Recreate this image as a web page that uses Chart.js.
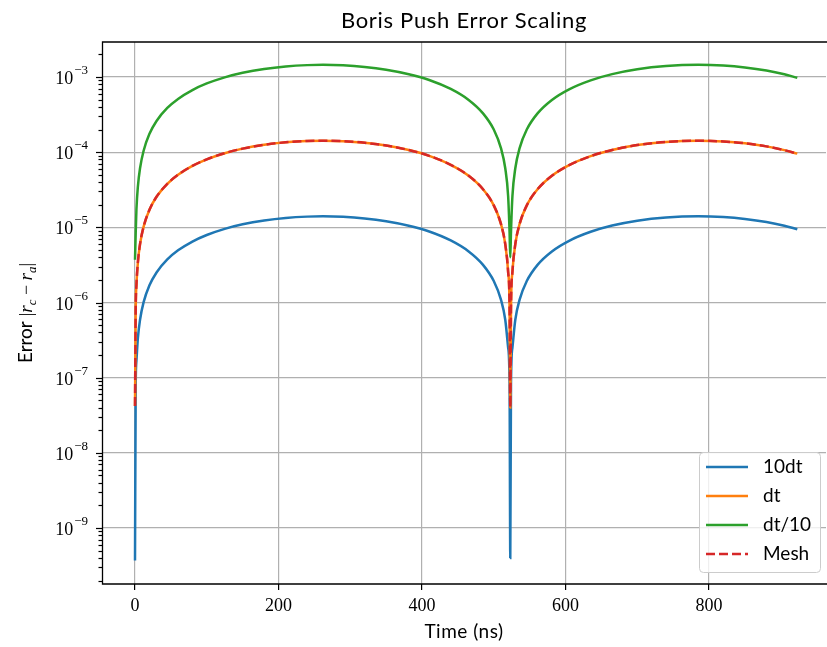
<!DOCTYPE html>
<html>
<head>
<meta charset="utf-8">
<title>Boris Push Error Scaling</title>
<script src="https://cdn.jsdelivr.net/npm/chart.js@4.4.1/dist/chart.umd.min.js"></script>
<style>
  html, body { margin: 0; padding: 0; background: #fff; }
</style>
</head>
<body>
<canvas id="errChart" width="827" height="647"></canvas>
<script>
// Time samples (ns)
const timeNs = [0, 1, 2, 4, 7, 12, 20, 30, 45, 60, 80, 100, 125, 150, 180, 210, 240, 262, 290, 320,
    350, 380, 410, 440, 465, 485, 500, 510, 516, 520, 522, 523, 524, 526, 530, 536, 546, 561, 581, 605,
    635, 665, 700, 740, 785, 820, 850, 880, 905, 923];

// Error |r_c - r_a| per run
const err10dt = [3.7e-10, 8.4e-8, 1.68e-7, 3.36e-7, 5.89e-7, 1.01e-6, 1.68e-6, 2.51e-6, 3.74e-6, 4.94e-6,
    6.47e-6, 7.91e-6, 9.55e-6, 1.098e-5, 1.235e-5, 1.334e-5, 1.388e-5, 1.40e-5, 1.379e-5, 1.314e-5,
    1.207e-5, 1.060e-5, 8.81e-6, 6.69e-6, 4.78e-6, 3.17e-6, 1.93e-6, 1.09e-6, 5.89e-7, 2.52e-7,
    8.4e-8, 4.0e-10, 8.4e-8, 2.52e-7, 5.89e-7, 1.09e-6, 1.93e-6, 3.17e-6, 4.78e-6, 6.62e-6,
    8.72e-6, 1.055e-5, 1.224e-5, 1.350e-5, 1.40e-5, 1.368e-5, 1.293e-5, 1.177e-5, 1.049e-5, 9.43e-6];

const errDt = [4.2e-8, 8.5e-7, 1.71e-6, 3.41e-6, 5.97e-6, 1.02e-5, 1.70e-5, 2.55e-5, 3.79e-5, 5.01e-5,
    6.57e-5, 8.03e-5, 9.69e-5, 1.114e-4, 1.253e-4, 1.353e-4, 1.408e-4, 1.42e-4, 1.399e-4, 1.333e-4,
    1.224e-4, 1.076e-4, 8.94e-5, 6.79e-5, 4.85e-5, 3.21e-5, 1.96e-5, 1.11e-5, 5.97e-6, 2.56e-6,
    8.5e-7, 4.0e-8, 8.5e-7, 2.56e-6, 5.97e-6, 1.11e-5, 1.96e-5, 3.21e-5, 4.85e-5, 6.72e-5,
    8.85e-5, 1.070e-4, 1.241e-4, 1.369e-4, 1.42e-4, 1.388e-4, 1.312e-4, 1.194e-4, 1.064e-4, 9.56e-5];

const errDt10 = [3.7e-6, 8.7e-6, 1.74e-5, 3.48e-5, 6.10e-5, 1.044e-4, 1.738e-4, 2.60e-4, 3.87e-4, 5.11e-4,
    6.70e-4, 8.20e-4, 9.89e-4, 1.137e-3, 1.280e-3, 1.381e-3, 1.438e-3, 1.45e-3, 1.429e-3, 1.361e-3,
    1.250e-3, 1.098e-3, 9.13e-4, 6.93e-4, 4.95e-4, 3.28e-4, 2.00e-4, 1.131e-4, 6.10e-5, 2.61e-5,
    8.7e-6, 4.0e-6, 8.7e-6, 2.61e-5, 6.10e-5, 1.131e-4, 2.00e-4, 3.28e-4, 4.95e-4, 6.86e-4,
    9.03e-4, 1.092e-3, 1.267e-3, 1.398e-3, 1.45e-3, 1.417e-3, 1.339e-3, 1.219e-3, 1.086e-3, 9.76e-4];

const errMesh = [4.2e-8, 8.5e-7, 1.71e-6, 3.41e-6, 5.97e-6, 1.02e-5, 1.70e-5, 2.55e-5, 3.79e-5, 5.01e-5,
    6.57e-5, 8.03e-5, 9.69e-5, 1.114e-4, 1.253e-4, 1.353e-4, 1.408e-4, 1.42e-4, 1.399e-4, 1.333e-4,
    1.224e-4, 1.076e-4, 8.94e-5, 6.79e-5, 4.85e-5, 3.21e-5, 1.96e-5, 1.11e-5, 5.97e-6, 2.56e-6,
    8.5e-7, 4.0e-8, 8.5e-7, 2.56e-6, 5.97e-6, 1.11e-5, 1.96e-5, 3.21e-5, 4.85e-5, 6.72e-5,
    8.85e-5, 1.070e-4, 1.241e-4, 1.369e-4, 1.42e-4, 1.388e-4, 1.312e-4, 1.194e-4, 1.064e-4, 9.56e-5];

const seriesLabels = ['10dt', 'dt', 'dt/10', 'Mesh'];
const xTicks = [0, 200, 400, 600, 800];
const yDecades = [-9, -8, -7, -6, -5, -4, -3];

const COLORS = ['#1f77b4', '#ff7f0e', '#2ca02c', '#d62728'];
const SANS = 'Lato, "Open Sans", sans-serif';
const SERIF = '"Liberation Serif", "DejaVu Serif", serif';

function toPoints(arr) {
    return timeNs.map((t, i) => ({ x: t, y: arr[i] }));
}

function makeSet(idx, arr, order, dash) {
    return {
        label: seriesLabels[idx],
        data: toPoints(arr),
        borderColor: COLORS[idx],
        backgroundColor: COLORS[idx],
        borderWidth: 2.5,
        borderDash: dash || [],
        pointRadius: 0,
        cubicInterpolationMode: 'monotone',
        order: order
    };
}

// title, spines, y labels with exponents, minor ticks and legend
const decorPlugin = {
    id: 'decor',
    afterDraw(chart) {
        const ctx = chart.ctx;
        const area = chart.chartArea;
        const ys = chart.scales.y;
        ctx.save();

        // frame (right spine falls outside the picture)
        ctx.strokeStyle = '#000';
        ctx.lineWidth = 1.3;
        ctx.beginPath();
        ctx.moveTo(827, area.top);
        ctx.lineTo(area.left + 0.5, area.top);
        ctx.lineTo(area.left + 0.5, area.bottom);
        ctx.lineTo(827, area.bottom);
        ctx.stroke();

        // y tick marks (major and minor)
        ctx.lineWidth = 1.2;
        for (let e = -10; e <= -3; e++) {
            for (let m = 1; m <= 9; m++) {
                const v = m * Math.pow(10, e);
                if (v < ys.min || v > ys.max) continue;
                const py = Math.round(ys.getPixelForValue(v)) + 0.5;
                const len = m === 1 ? 6 : 3.5;
                ctx.beginPath();
                ctx.moveTo(area.left - len, py);
                ctx.lineTo(area.left, py);
                ctx.stroke();
            }
        }

        // y tick labels: 10 with superscript exponent
        ctx.fillStyle = '#000';
        ctx.textBaseline = 'alphabetic';
        ctx.textAlign = 'left';
        yDecades.forEach(e => {
            const py = ys.getPixelForValue(Math.pow(10, e));
            const exp = '\u2212' + Math.abs(e);
            ctx.font = '18px ' + SERIF;
            const wBase = ctx.measureText('10').width;
            ctx.font = '13px ' + SERIF;
            const wExp = ctx.measureText(exp).width;
            const x0 = 88 - wBase - wExp - 1;
            ctx.font = '18px ' + SERIF;
            ctx.fillText('10', x0, py + 7);
            ctx.font = '13px ' + SERIF;
            ctx.fillText(exp, x0 + wBase + 1, py - 3);
        });

        // title
        ctx.textAlign = 'center';
        ctx.letterSpacing = '0.7px';
        ctx.font = '22px ' + SANS;
        ctx.fillText('Boris Push Error Scaling', (area.left + area.right) / 2, 28);

        // x title
        ctx.letterSpacing = '0.5px';
        ctx.font = '19px ' + SANS;
        ctx.textBaseline = 'middle';
        ctx.fillText('Time (ns)', (area.left + area.right) / 2, 632);
        ctx.letterSpacing = '0px';

        // y title: Error |r_c - r_a|
        const parts = [
            { t: 'Error ', f: '19px ' + SANS, dy: 0 },
            { t: '|', f: '18px ' + SERIF, dy: 0 },
            { t: 'r', f: 'italic 19px ' + SERIF, dy: 0 },
            { t: 'c', f: 'italic 13px ' + SERIF, dy: 4 },
            { t: ' \u2212 ', f: '18px ' + SERIF, dy: 0 },
            { t: 'r', f: 'italic 19px ' + SERIF, dy: 0 },
            { t: 'a', f: 'italic 13px ' + SERIF, dy: 4 },
            { t: '|', f: '18px ' + SERIF, dy: 0 }
        ];
        let total = 0;
        parts.forEach(p => { ctx.font = p.f; p.w = ctx.measureText(p.t).width; total += p.w; });
        ctx.translate(25, 313);
        ctx.rotate(-Math.PI / 2);
        ctx.textAlign = 'left';
        ctx.textBaseline = 'alphabetic';
        let cx = -total / 2;
        parts.forEach(p => {
            ctx.font = p.f;
            ctx.fillText(p.t, cx, 7 + p.dy);
            cx += p.w;
        });
        ctx.setTransform(1, 0, 0, 1, 0, 0);

        // legend
        ctx.fillStyle = 'rgba(255,255,255,0.8)';
        ctx.strokeStyle = '#cccccc';
        ctx.lineWidth = 1;
        ctx.beginPath();
        ctx.roundRect(699.5, 452.5, 121, 120, 4);
        ctx.fill();
        ctx.stroke();
        ctx.font = '19px ' + SANS;
        ctx.textBaseline = 'middle';
        ctx.textAlign = 'left';
        seriesLabels.forEach((lab, i) => {
            const ly = 467 + i * 29;
            ctx.strokeStyle = COLORS[i];
            ctx.lineWidth = 2.5;
            ctx.setLineDash(i === 3 ? [9, 4] : []);
            ctx.beginPath();
            ctx.moveTo(706, ly);
            ctx.lineTo(748, ly);
            ctx.stroke();
            ctx.setLineDash([]);
            ctx.fillStyle = '#000';
            ctx.fillText(lab, 763, ly);
        });

        ctx.restore();
    }
};

new Chart(document.getElementById('errChart'), {
    type: 'line',
    data: {
        datasets: [
            makeSet(0, err10dt, 4),
            makeSet(1, errDt, 3),
            makeSet(2, errDt10, 2),
            makeSet(3, errMesh, 1, [9, 4])
        ]
    },
    options: {
        responsive: false,
        animation: false,
        devicePixelRatio: 1,
        layout: { padding: { top: 42, right: 1, bottom: 0, left: 0 } },
        plugins: { legend: { display: false }, title: { display: false }, tooltip: { enabled: false } },
        scales: {
            x: {
                type: 'linear',
                min: -46,
                max: 963,
                bounds: 'data',
                afterBuildTicks: s => { s.ticks = xTicks.map(v => ({ value: v })); },
                afterFit: s => { s.height = 63; },
                border: { display: false },
                grid: { color: '#b0b0b0', lineWidth: 1.2, tickColor: '#000', tickLength: 6, tickWidth: 1.2 },
                ticks: { color: '#000', font: { family: SERIF, size: 18 }, padding: 5, maxRotation: 0, autoSkip: false }
            },
            y: {
                type: 'logarithmic',
                min: 1.8e-10,
                max: 2.92e-3,
                bounds: 'data',
                afterBuildTicks: s => { s.ticks = yDecades.map(e => ({ value: Math.pow(10, e) })); },
                afterFit: s => { s.width = 102; },
                border: { display: false },
                grid: { color: '#b0b0b0', lineWidth: 1.2, drawTicks: false },
                ticks: { display: false }
            }
        }
    },
    plugins: [decorPlugin]
});
</script>
</body>
</html>
